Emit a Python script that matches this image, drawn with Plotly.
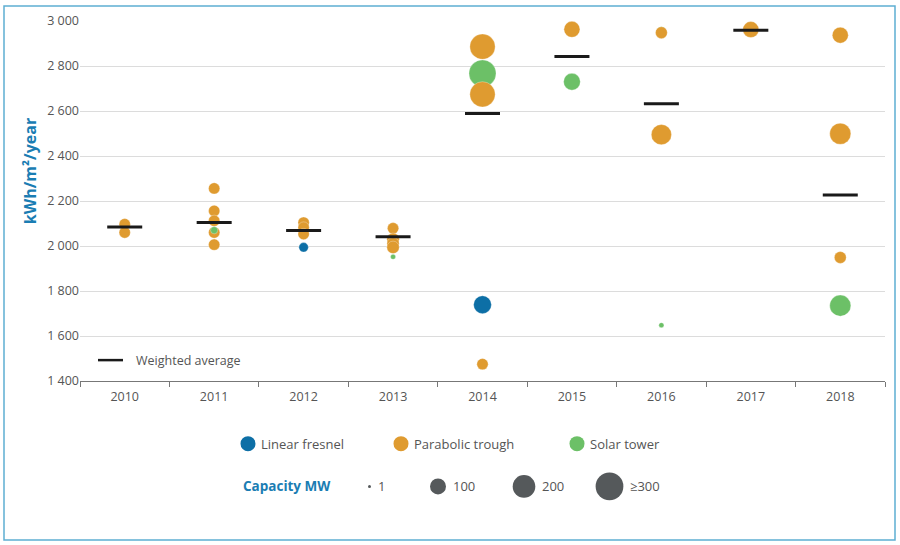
import plotly.graph_objects as go

# ---------------- data ----------------
years = ["2010", "2011", "2012", "2013", "2014", "2015", "2016", "2017", "2018"]

# individual plants (draw order matters for overlaps)
plant_year = ["2010", "2010",
              "2011", "2011", "2011", "2011", "2011", "2011",
              "2012", "2012", "2012", "2012",
              "2013", "2013", "2013", "2013", "2013",
              "2014", "2014", "2014", "2014", "2014",
              "2015", "2015",
              "2016", "2016", "2016", "2016",
              "2017",
              "2018", "2018", "2018", "2018"]
plant_value = [2097, 2060,
               2256, 2156, 2112, 2060, 2006, 2070,
               2104, 2082, 2053, 1994,
               2079, 2030, 2010, 1994, 1952,
               2886, 2767, 2674, 1475, 1739,
               2963, 2730,
               2957, 2948, 2495, 1648,
               2962,
               2937, 2499, 1949, 1735]
plant_capacity = [50, 50,
                  50, 50, 50, 50, 50, 20,
                  50, 50, 50, 35,
                  50, 60, 60, 60, 10,
                  250, 285, 250, 50, 125,
                  100, 110,
                  25, 55, 160, 10,
                  100,
                  100, 175, 55, 175]
plant_tech = ["PT", "PT",
              "PT", "PT", "PT", "PT", "PT", "ST",
              "PT", "PT", "PT", "LF",
              "PT", "PT", "PT", "PT", "ST",
              "PT", "ST", "PT", "PT", "LF",
              "PT", "ST",
              "ST", "PT", "PT", "ST",
              "PT",
              "PT", "PT", "PT", "ST"]

avg_year = years
avg_value = [2085, 2104, 2069, 2041, 2589, 2842, 2632, 2959, 2227]

tech_names = {"LF": "Linear fresnel", "PT": "Parabolic trough", "ST": "Solar tower"}
legend_capacity = [1, 100, 200, 300]
legend_capacity_labels = ["1", "100", "200", "≥300"]

# ---------------- style ----------------
colors = {"LF": "#0d6fa6", "PT": "#df9b30", "ST": "#6cc067"}
FONT = "Open Sans"
TXT = "#555555"
BLUE = "#1a7db3"
W, H = 900, 545
L, R, T, B = 80, 15, 19, 164
PW, PH = W - L - R, H - T - B


def px(x):
    return (x - L) / PW


def py(y):
    return (H - B - y) / PH


def diam(mw):
    return max(3.5, 1.6 * mw ** 0.5)


fig = go.Figure()

fig.add_trace(go.Scatter(
    x=plant_year, y=plant_value, mode="markers",
    marker=dict(size=[diam(c) for c in plant_capacity],
                color=[colors[t] for t in plant_tech], opacity=1,
                line=dict(width=0.6, color="rgba(255,255,255,0.5)")),
    hovertext=[tech_names[t] for t in plant_tech],
    showlegend=False))

fig.add_trace(go.Scatter(
    x=avg_year, y=avg_value, mode="markers",
    marker=dict(symbol="line-ew", size=25, opacity=1,
                line=dict(width=3, color="#1a1a1a")),
    name="Weighted average", showlegend=False))

shapes = []
annotations = []

# outer border
shapes.append(dict(type="rect", xref="paper", yref="paper",
                   x0=px(4), x1=px(895), y0=py(541), y1=py(4),
                   line=dict(color="#5eaed2", width=1.5)))

# weighted average legend (inside plot)
shapes.append(dict(type="line", xref="paper", yref="paper",
                   x0=px(98), x1=px(123), y0=py(360), y1=py(360),
                   line=dict(color="#1a1a1a", width=2.5)))
annotations.append(dict(text="Weighted average", xref="paper", yref="paper",
                        x=px(134), y=py(360), xanchor="left", yanchor="middle",
                        showarrow=False, font=dict(family=FONT, size=12.5, color=TXT)))

# technology legend row
tech_pos = [("LF", 248), ("PT", 401), ("ST", 577)]
for key, cx in tech_pos:
    shapes.append(dict(type="circle", xref="paper", yref="paper",
                       xsizemode="pixel", ysizemode="pixel",
                       xanchor=px(cx), yanchor=py(444),
                       x0=-7.5, x1=7.5, y0=-7.5, y1=7.5,
                       fillcolor=colors[key], line=dict(width=0)))
    annotations.append(dict(text=tech_names[key], xref="paper", yref="paper",
                            x=px(cx + 11), y=py(444), xanchor="left", yanchor="middle",
                            showarrow=False, font=dict(family=FONT, size=13, color=TXT)))

# capacity legend row
annotations.append(dict(text="<b>Capacity MW</b>", xref="paper", yref="paper",
                        x=px(241), y=py(487), xanchor="left", yanchor="middle",
                        showarrow=False, font=dict(family=FONT, size=13.5, color=BLUE)))
cap_pos = [369.5, 438, 524, 609.5]
for cap, lab, cx in zip(legend_capacity, legend_capacity_labels, cap_pos):
    r = diam(cap) / 2 if cap > 1 else 1.5
    shapes.append(dict(type="circle", xref="paper", yref="paper",
                       xsizemode="pixel", ysizemode="pixel",
                       xanchor=px(cx), yanchor=py(487),
                       x0=-r, x1=r, y0=-r, y1=r,
                       fillcolor="#55595b", line=dict(width=0)))
    annotations.append(dict(text=lab, xref="paper", yref="paper",
                            x=px(cx + r + 5), y=py(487), xanchor="left", yanchor="middle",
                            showarrow=False, font=dict(family=FONT, size=13, color=TXT)))

# y-axis title
annotations.append(dict(text="<b>kWh/m²/year</b>", xref="paper", yref="paper",
                        x=px(30), y=py(170), xanchor="center", yanchor="middle",
                        textangle=-90, showarrow=False,
                        font=dict(family=FONT, size=16, color=BLUE)))

fig.update_layout(
    width=W, height=H, autosize=False,
    margin=dict(l=L, r=R, t=T, b=B),
    paper_bgcolor="white", plot_bgcolor="white",
    separators=". ",
    font=dict(family=FONT, size=12.5, color=TXT),
    shapes=shapes, annotations=annotations,
    showlegend=False,
    xaxis=dict(type="category", categoryorder="array", categoryarray=years,
               range=[-0.5, 8.5], tickson="boundaries", ticks="outside",
               ticklen=5, tickcolor="#777777", showline=True, linecolor="#777777",
               linewidth=1, showgrid=False, zeroline=False, ticklabelstandoff=4,
               tickfont=dict(family=FONT, size=12.5, color=TXT)),
    yaxis=dict(range=[1400, 3000], dtick=200, tick0=1400, tickformat=",",
               showgrid=True, gridcolor="#dcdcdc", gridwidth=1,
               zeroline=False, showline=False, ticks="",
               tickfont=dict(family=FONT, size=12.5, color=TXT)),
)

fig.write_html(
    "out.html",
    config={"displayModeBar": False},
    post_script="document.body.style.margin='0';document.body.style.overflow='hidden';",
)
